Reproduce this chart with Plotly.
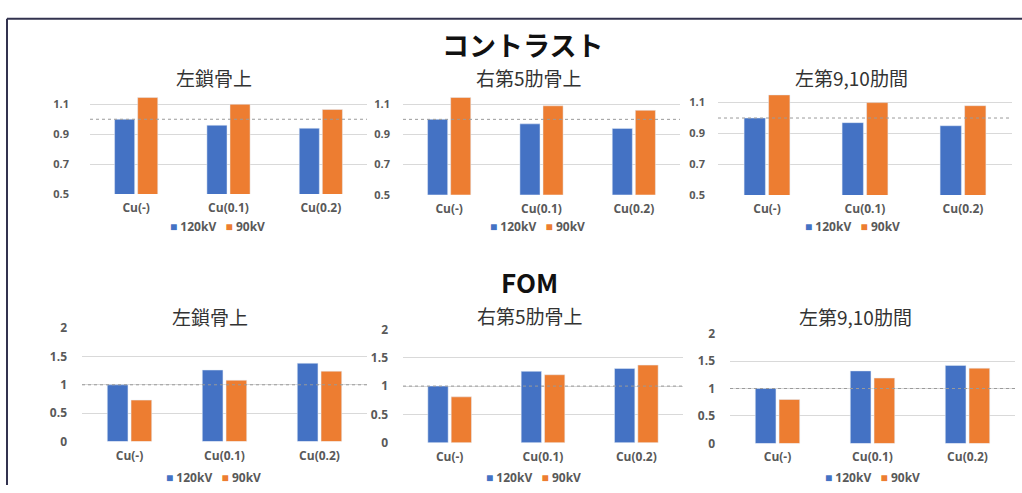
import plotly.graph_objects as go

categories = ["Cu(-)", "Cu(0.1)", "Cu(0.2)"]
series_names = ["120kV", "90kV"]
regions = ["左鎖骨上", "右第5肋骨上", "左第9,10肋間"]

# コントラスト
contrast_120_left_clavicle = [1.00, 0.96, 0.94]
contrast_90_left_clavicle = [1.145, 1.10, 1.065]
contrast_120_right_rib5 = [1.00, 0.97, 0.94]
contrast_90_right_rib5 = [1.145, 1.09, 1.06]
contrast_120_left_ic910 = [1.00, 0.97, 0.95]
contrast_90_left_ic910 = [1.15, 1.10, 1.08]

# FOM
fom_120_left_clavicle = [1.00, 1.26, 1.38]
fom_90_left_clavicle = [0.73, 1.08, 1.24]
fom_120_right_rib5 = [1.00, 1.26, 1.31]
fom_90_right_rib5 = [0.81, 1.20, 1.37]
fom_120_left_ic910 = [1.00, 1.32, 1.42]
fom_90_left_ic910 = [0.80, 1.19, 1.37]

contrast_ticks = [0.5, 0.7, 0.9, 1.1]
fom_ticks = [0, 0.5, 1, 1.5, 2]
fom_tick_labels = ["0", "0.5", "1", "1.5", "2"]
reference_level = 1.0

W, H = 1022, 493
BLUE = "#4472C4"
ORANGE = "#ED7D31"
GRID = "#D9D9D9"
TXT = "#595959"
CJK = "Noto Sans CJK JP"
LAT = "Open Sans"

def px_x(v):
    return v / W

def px_y(v):
    return 1 - v / H

panels = [
    # (x0, x1, ytop, ybottom, data120, data90, kind, y-label standoff, legend center x, legend y, title x, title y)
    (90, 367, 83.2, 191.7, contrast_120_left_clavicle, contrast_90_left_clavicle, "c", 20, 217, 225, 214, 71),
    (403, 680, 83.1, 192.3, contrast_120_right_rib5, contrast_90_right_rib5, "c", 12, 537, 225, 529, 71),
    (718, 1012, 81.0, 192.7, contrast_120_left_ic910, contrast_90_left_ic910, "c", 12, 852, 225, 851, 71),
    (82, 367, 330.3, 448.0, fom_120_left_clavicle, fom_90_left_clavicle, "f", 14, 213, 485, 210, 318),
    (403, 683, 331.7, 449.3, fom_120_right_rib5, fom_90_right_rib5, "f", 14, 533, 485, 530, 317),
    (730, 1015, 336.0, 450.0, fom_120_left_ic910, fom_90_left_ic910, "f", 14, 872, 485, 855, 318),
]

fig = go.Figure()
layout = dict(
    width=W, height=H,
    margin=dict(l=0, r=0, t=0, b=0),
    paper_bgcolor="white", plot_bgcolor="white",
    barmode="group", bargap=0.5, bargroupgap=0.13,
    showlegend=False,
)
shapes = []
annotations = []

for i, (x0, x1, yt, yb, d120, d90, kind, stand, lx, ly, tx, ty) in enumerate(panels):
    n = i + 1
    xa = "x" if n == 1 else f"x{n}"
    ya = "y" if n == 1 else f"y{n}"
    fig.add_trace(go.Bar(x=categories, y=d120, name=series_names[0], marker_color=BLUE,
                         xaxis=xa, yaxis=ya))
    fig.add_trace(go.Bar(x=categories, y=d90, name=series_names[1], marker_color=ORANGE,
                         xaxis=xa, yaxis=ya))
    layout[f"xaxis{'' if n == 1 else n}"] = dict(
        domain=[px_x(x0), px_x(x1)], anchor=ya, showgrid=False, showline=False,
        zeroline=False, ticks="", ticklabelstandoff=5,
        tickfont=dict(family=LAT, size=12, color=TXT, weight="bold"), fixedrange=True,
    )
    if kind == "c":
        yd = dict(range=[0.5, 1.2], tickvals=contrast_ticks,
                  ticktext=[f"{v:.1f}" for v in contrast_ticks])
        ysz = 11
    else:
        yd = dict(range=[0, 2.002], tickvals=fom_ticks, ticktext=fom_tick_labels)
        ysz = 12
    yd.update(domain=[px_y(yb), px_y(yt)], anchor=xa, showgrid=True, gridcolor=GRID,
              gridwidth=1, zeroline=False, showline=False, ticks="",
              ticklabelstandoff=stand,
              tickfont=dict(family=LAT, size=ysz, color=TXT, weight="bold"), fixedrange=True)
    layout[f"yaxis{'' if n == 1 else n}"] = yd
    # legend drawn as text line below each chart
    legend_text = (f"<span style='color:{BLUE}'>■</span> {series_names[0]}   "
                   f"<span style='color:{ORANGE}'>■</span> {series_names[1]}")
    annotations.append(dict(text=legend_text, x=px_x(lx), y=px_y(ly), xref="paper", yref="paper",
                            xanchor="center", yanchor="middle", showarrow=False,
                            font=dict(family=LAT, size=12, color=TXT, weight="bold")))
    # reference level line (dotted)
    shapes.append(dict(type="line", xref=f"{xa} domain", yref=ya, x0=0, x1=1,
                       y0=reference_level, y1=reference_level,
                       line=dict(color="#9A9A9A", width=1, dash="dot"), layer="above"))
    annotations.append(dict(text=regions[i % 3], x=px_x(tx), y=px_y(ty), xref="paper", yref="paper",
                            xanchor="center", yanchor="middle", showarrow=False,
                            font=dict(family=CJK, size=19, color="#333333")))

annotations.append(dict(text="<b>コントラスト</b>", x=px_x(522), y=px_y(37), xref="paper", yref="paper",
                        xanchor="center", yanchor="middle", showarrow=False,
                        font=dict(family=CJK, size=27, color="#111111")))
annotations.append(dict(text="<b>FOM</b>", x=px_x(529), y=px_y(282), xref="paper", yref="paper",
                        xanchor="center", yanchor="middle", showarrow=False,
                        font=dict(family=CJK, size=26, color="#111111")))

# frame lines
shapes.append(dict(type="line", xref="paper", yref="paper", x0=px_x(7), x1=1.0,
                   y0=px_y(10), y1=px_y(10), line=dict(color="#33334F", width=2)))
shapes.append(dict(type="line", xref="paper", yref="paper", x0=px_x(7), x1=px_x(7),
                   y0=px_y(10), y1=0, line=dict(color="#33334F", width=2)))

layout["shapes"] = shapes
layout["annotations"] = annotations
fig.update_layout(**layout)
fig.write_html("out.html")
